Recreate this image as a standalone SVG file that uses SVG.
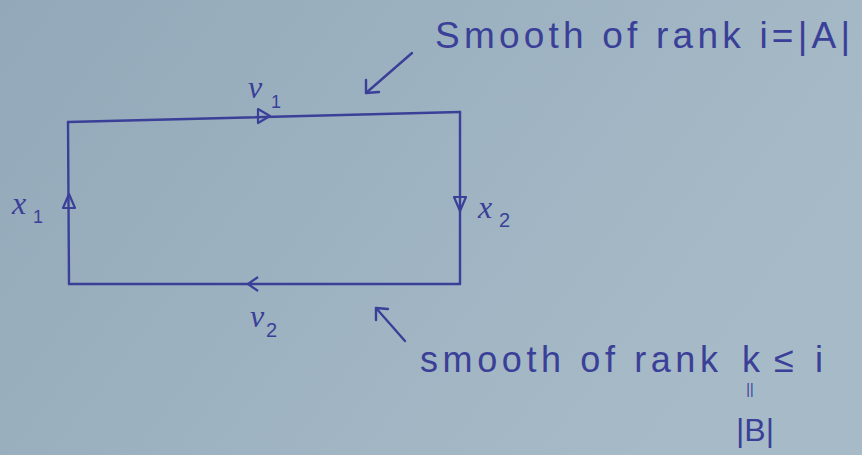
<svg xmlns="http://www.w3.org/2000/svg" width="862" height="455" viewBox="0 0 862 455">
  <defs>
    <linearGradient id="paper" x1="0" y1="0" x2="1" y2="0.4">
      <stop offset="0" stop-color="#93a8b8"/>
      <stop offset="0.5" stop-color="#9db2c1"/>
      <stop offset="1" stop-color="#a7bac7"/>
    </linearGradient>
  </defs>
  <style>
    .ink { stroke: #3a3f98; stroke-width: 2.4; fill: none; stroke-linecap: round; stroke-linejoin: round; }
    .head { stroke: #3a3f98; stroke-width: 2.2; fill: none; stroke-linejoin: round; }
    .t { font-family: "Liberation Sans", "DejaVu Sans", sans-serif; fill: #3a3f98; }
    .m { font-family: "Liberation Serif", "DejaVu Serif", serif; font-style: italic; fill: #3a3f98; }
  </style>
  <rect width="862" height="455" fill="url(#paper)"/>

  <g id="connectors">
    <g id="edge-top">
      <path class="ink" d="M68,122 L460,112"/>
      <path class="head" d="M258,109 L270,116 L258,123 Z"/>
    </g>
    <g id="edge-right">
      <path class="ink" d="M460,112 L460,284"/>
      <path class="head" d="M454,197 L460,211 L466,197 Z"/>
    </g>
    <g id="edge-bottom">
      <path class="ink" d="M459,284 L69,284"/>
      <path class="head" d="M258,277 L248,284 L258,291"/>
    </g>
    <g id="edge-left">
      <path class="ink" d="M69,284 L68,122"/>
      <path class="head" d="M63,208 L69,194 L75,208 Z"/>
    </g>
    <g id="pointer-top">
      <path class="ink" d="M412,53 L366,93"/>
      <path class="ink" d="M366,80 L366,93 L379,92"/>
    </g>
    <g id="pointer-bottom">
      <path class="ink" d="M405,341 L376,308"/>
      <path class="ink" d="M376,320 L376,308 L388,309"/>
    </g>
  </g>

  <g id="label-v1">
    <text class="m" x="248" y="98" font-size="32">v</text>
    <text class="t" x="271" y="108" font-size="18">1</text>
  </g>
  <g id="label-x1">
    <text class="m" x="12" y="214" font-size="32">x</text>
    <text class="t" x="33" y="223" font-size="18">1</text>
  </g>
  <g id="label-x2">
    <text class="m" x="478" y="218" font-size="32">x</text>
    <text class="t" x="499" y="227" font-size="20">2</text>
  </g>
  <g id="label-v2">
    <text class="m" x="250" y="327" font-size="32">v</text>
    <text class="t" x="266" y="337" font-size="20">2</text>
  </g>

  <g id="note-top">
    <text class="t" x="435" y="48" font-size="37" textLength="415" lengthAdjust="spacing">Smooth of rank i=|A|</text>
  </g>
  <g id="note-bottom">
    <text class="t" x="420" y="372" font-size="36" textLength="298" lengthAdjust="spacing">smooth of rank</text>
    <text class="t" y="372" font-size="36"><tspan x="742">k</tspan><tspan x="774">≤</tspan><tspan x="815">i</tspan></text>
    <text class="t" x="750" y="394" font-size="14" text-anchor="middle">||</text>
    <text class="t" x="755" y="441" font-size="32" text-anchor="middle">|B|</text>
  </g>
</svg>
